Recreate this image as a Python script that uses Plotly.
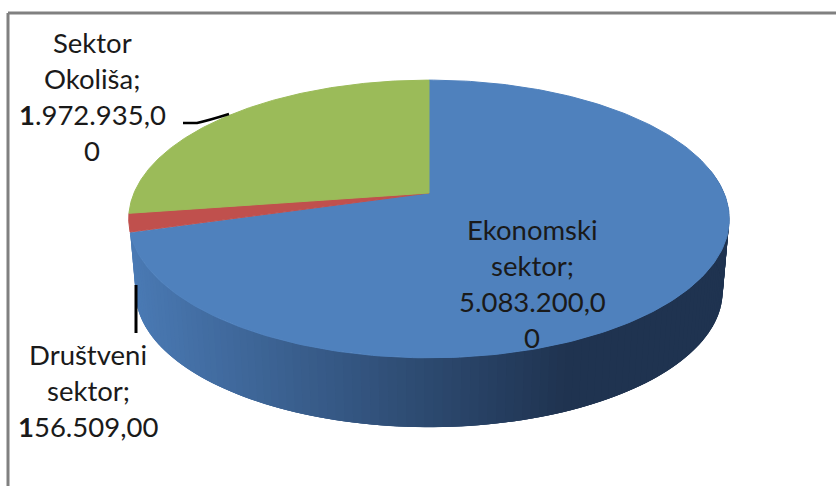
import numpy as np
import plotly.graph_objects as go

# ---- data ----
categories = ["Ekonomski sektor", "Društveni sektor", "Sektor Okoliša"]
values = [5083200.00, 156509.00, 1972935.00]
colors = ["#4F81BD", "#C0504D", "#9BBB59"]
label_lines = [
    ["Ekonomski", "sektor;", "5.083.200,0", "0"],
    ["Društveni", "sektor;", "<b>1</b>56.509,00"],
    ["Sektor", "Okoliša;", "<b>1</b>.972.935,0", "0"],
]
label_pos = [(532, 229), (88, 354), (92, 42.5)]

# ---- projection of the tilted disc onto the canvas ----
W, H = 836, 486
CX, CY = 429, 193
RX, RY, K = 295, 134, 0.187
DEPTH, SHRINK = 73, 0.978
LINE_STEP = 36


def project(theta, scale=1.0, dy=0.0):
    """theta: radians clockwise from 12 o'clock."""
    s, c = np.sin(theta), -np.cos(theta)
    d = 1 - K * c
    return CX + scale * RX * s / d, CY + dy + scale * RY * c / d


def mix(a, b, t):
    a = np.array([int(a[i:i + 2], 16) for i in (1, 3, 5)])
    b = np.array([int(b[i:i + 2], 16) for i in (1, 3, 5)])
    r = a + (b - a) * min(max(t, 0), 1)
    return "rgb({},{},{})".format(*r.round().astype(int))


fracs = np.array(values) / sum(values)
edges = np.concatenate([[0], np.cumsum(fracs)]) * 2 * np.pi

fig = go.Figure()

# side wall of the first slice: strips painted so each one overlaps the last
strips = np.linspace(edges[1], np.radians(80), 120)
step = abs(strips[1] - strips[0])
for a, b in zip(strips[:-1], strips[1:]):
    tt = np.linspace(b, min(a + 2 * step, edges[1]), 5)
    x1, y1 = project(tt)
    x2, y2 = project(tt[::-1], SHRINK, DEPTH)
    xm = (x1.mean() + x2.mean()) / 2
    col = mix("#4A7AB4", "#1F3350", (xm - 135) / (575 - 135))
    fig.add_trace(go.Scatter(
        x=np.r_[x1, x2], y=np.r_[y1, y2], mode="lines", fill="toself",
        fillcolor=col, line=dict(color=col, width=0),
        hoverinfo="skip", showlegend=False))

# top faces
for i, name in enumerate(categories):
    tt = np.linspace(edges[i], edges[i + 1], 240)
    x, y = project(tt)
    fig.add_trace(go.Scatter(
        x=np.r_[CX, x, CX], y=np.r_[CY, y, CY], mode="lines", fill="toself",
        fillcolor=colors[i], line=dict(color=colors[i], width=1),
        name=name, hoverinfo="name", showlegend=False))

# labels
annotations = []
for lines, (lx, ly) in zip(label_lines, label_pos):
    for j, t in enumerate(lines):
        annotations.append(dict(
            x=lx, y=ly + j * LINE_STEP, xref="x", yref="y", text=t,
            showarrow=False, xanchor="center", yanchor="middle",
            font=dict(family="Lato, Carlito, sans-serif", size=27.5, color="#1a1a1a")))

shapes = [
    # chart frame (only top and left are inside the window)
    dict(type="line", x0=8, y0=13, x1=W, y1=13, line=dict(color="#808080", width=3)),
    dict(type="line", x0=8, y0=13, x1=8, y1=H, line=dict(color="#808080", width=3)),
    # leader lines
    dict(type="path", path="M 183 123 L 197 123 Q 210 120 229 114",
         line=dict(color="black", width=2.5)),
    dict(type="line", x0=136, y0=285, x1=136, y1=333, line=dict(color="black", width=3)),
]

fig.update_layout(
    width=W, height=H, margin=dict(l=0, r=0, t=0, b=0),
    paper_bgcolor="white", plot_bgcolor="white",
    xaxis=dict(range=[0, W], visible=False, fixedrange=True),
    yaxis=dict(range=[H, 0], visible=False, fixedrange=True),
    annotations=annotations, shapes=shapes, showlegend=False,
)
fig.write_html("out.html", config=dict(displayModeBar=False),
               post_script="document.body.style.margin='0';document.body.style.overflow='hidden';")
